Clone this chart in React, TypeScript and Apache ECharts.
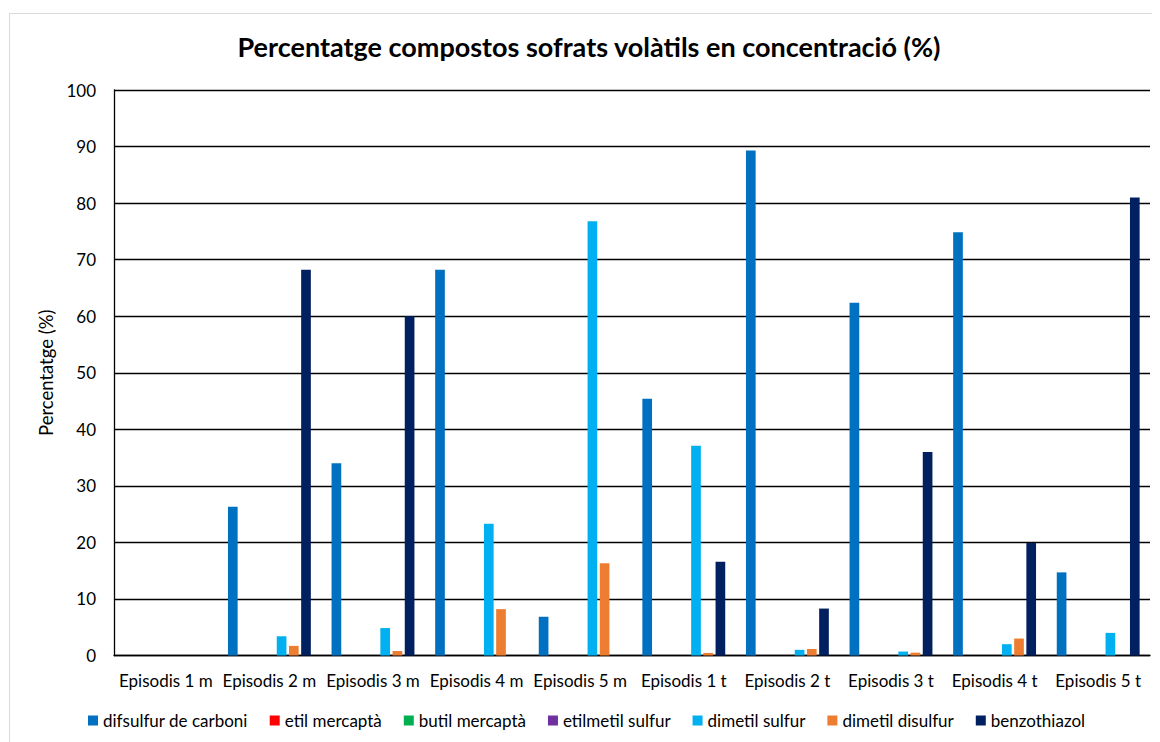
import React, { useEffect, useRef } from "react";
import * as echarts from "echarts";

const categories = [
  "Episodis 1 m", "Episodis 2 m", "Episodis 3 m", "Episodis 4 m", "Episodis 5 m",
  "Episodis 1 t", "Episodis 2 t", "Episodis 3 t", "Episodis 4 t", "Episodis 5 t",
];
const seriesNames = [
  "difsulfur de carboni", "etil mercaptà", "butil mercaptà", "etilmetil sulfur",
  "dimetil sulfur", "dimetil disulfur", "benzothiazol",
];
const seriesColors = ["#0070C0", "#FF0000", "#00B050", "#7030A0", "#00B0F0", "#ED7D31", "#002060"];

const difsulfur = [0, 26.3, 34.0, 68.2, 6.85, 45.4, 89.3, 62.4, 74.85, 14.7];
const etilMercapta = [0, 0, 0, 0, 0, 0, 0, 0, 0, 0];
const butilMercapta = [0, 0, 0, 0, 0, 0, 0, 0, 0, 0];
const etilmetilSulfur = [0, 0, 0, 0, 0, 0, 0, 0, 0, 0];
const dimetilSulfur = [0, 3.4, 4.85, 23.3, 76.8, 37.1, 1.0, 0.7, 2.0, 4.0];
const dimetilDisulfur = [0, 1.7, 0.8, 8.2, 16.3, 0.45, 1.15, 0.5, 3.0, 0];
const benzothiazol = [0, 68.2, 60.0, 0, 0, 16.6, 8.3, 36.0, 19.9, 81.0];

const seriesData = [difsulfur, etilMercapta, butilMercapta, etilmetilSulfur, dimetilSulfur, dimetilDisulfur, benzothiazol];

const FONT = "Lato, 'Open Sans', sans-serif";

export default function App() {
  const ref = useRef<HTMLDivElement>(null);
  useEffect(() => {
    if (!ref.current) return;
    const chart = echarts.init(ref.current, undefined, { renderer: "svg" });
    chart.setOption({
      animation: false,
      backgroundColor: "#ffffff",
      textStyle: { fontFamily: FONT },
      graphic: [
        {
          type: "rect",
          shape: { x: 1.5, y: 5.5, width: 1300, height: 900 },
          style: { fill: "none", stroke: "#d9d9d9", lineWidth: 1 },
          silent: true,
          z: -10,
        },
        {
          type: "text",
          x: 581,
          y: 38,
          style: {
            text: "Percentatge compostos sofrats volàtils en concentració (%)",
            fill: "#000000",
            font: `bold 27px ${FONT}`,
            textAlign: "center",
            textVerticalAlign: "middle",
          },
        },
      ],
      grid: { left: 106, top: 82, right: 10, bottom: 86.5 },
      legend: {
        data: seriesNames,
        left: 75,
        top: 699,
        itemWidth: 10,
        itemHeight: 10,
        itemGap: 22,
        icon: "rect",
        textStyle: { fontFamily: FONT, fontSize: 17, color: "#000" },
      },
      xAxis: {
        type: "category",
        data: categories,
        axisLine: { show: true, lineStyle: { color: "#000", width: 1.3 } },
        axisTick: { show: false },
        axisLabel: { fontFamily: FONT, fontSize: 17, color: "#000", margin: 16, interval: 0 },
      },
      yAxis: {
        type: "value",
        min: 0,
        max: 100,
        interval: 10,
        name: "Percentatge (%)",
        nameLocation: "middle",
        nameGap: 55,
        nameRotate: 90,
        nameTextStyle: { fontFamily: FONT, fontSize: 18.5, color: "#000" },
        axisLine: { show: true, lineStyle: { color: "#000", width: 1.3 } },
        axisTick: { show: false },
        axisLabel: { fontFamily: FONT, fontSize: 17, color: "#000", margin: 18 },
        splitLine: { show: true, lineStyle: { color: "#000", width: 1.3 } },
      },
      series: seriesNames.map((name, i) => ({
        name,
        type: "bar",
        data: seriesData[i],
        barCategoryGap: "20%",
        barGap: "26%",
        itemStyle: { color: seriesColors[i] },
      })),
    });
    return () => chart.dispose();
  }, []);
  return <div ref={ref} style={{ width: 1152, height: 734 }} />;
}
